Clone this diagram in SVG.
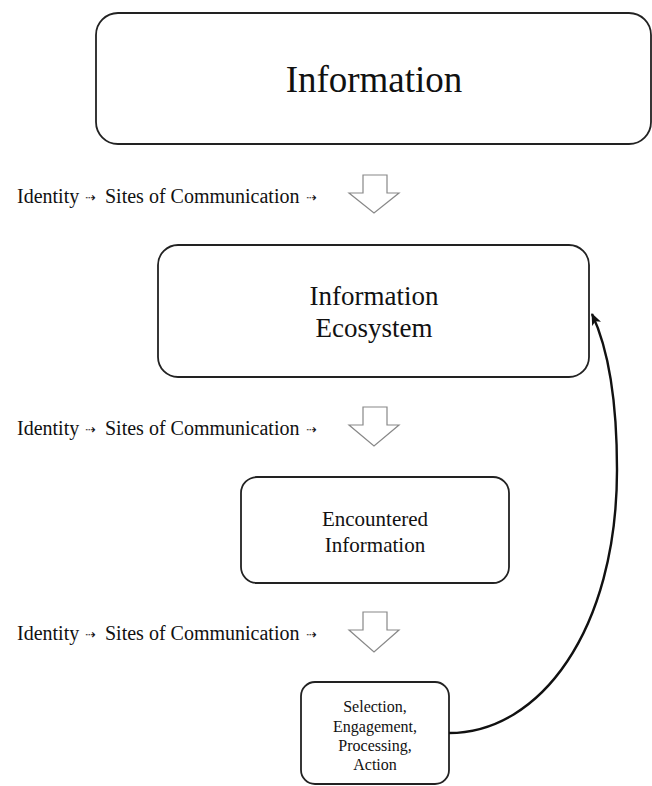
<svg xmlns="http://www.w3.org/2000/svg" width="652" height="786" viewBox="0 0 652 786">
<style>
.box{fill:#fff;stroke:#222;stroke-width:1.8}
.t{font-family:"Liberation Serif","Times New Roman",serif;fill:#111;text-anchor:middle}
.lbl{font-family:"Liberation Serif","Times New Roman",serif;fill:#111;font-size:20px}
.sa{font-family:"DejaVu Sans",sans-serif;font-size:13px}
.hollow{fill:#fff;stroke:#888;stroke-width:1.2;stroke-linejoin:miter}
.conn{fill:none;stroke:#111;stroke-width:2.4}
</style>
<defs>
<marker id="ah" viewBox="0 0 12 10" refX="11" refY="5" markerWidth="12" markerHeight="10" markerUnits="userSpaceOnUse" orient="auto">
<path d="M0,0 L12,5 L0,10 L3,5 Z" fill="#111"/>
</marker>
</defs>
<rect width="652" height="786" fill="#fff"/>
<g id="node-information">
<rect class="box" x="96" y="13" width="555" height="131" rx="22"/>
<text class="t" x="374" y="92" font-size="37">Information</text>
</g>
<g id="node-ecosystem">
<rect class="box" x="158" y="245" width="431" height="132" rx="20"/>
<text class="t" x="374" y="305" font-size="27">Information</text>
<text class="t" x="374" y="337" font-size="27">Ecosystem</text>
</g>
<g id="node-encountered">
<rect class="box" x="241" y="477" width="268" height="106" rx="16"/>
<text class="t" x="375" y="526" font-size="21">Encountered</text>
<text class="t" x="375" y="552" font-size="21">Information</text>
</g>
<g id="node-selection">
<rect class="box" x="301" y="682" width="148" height="102" rx="14"/>
<text class="t" x="375" y="712" font-size="16">Selection,</text>
<text class="t" x="375" y="732" font-size="16">Engagement,</text>
<text class="t" x="375" y="751" font-size="16">Processing,</text>
<text class="t" x="375" y="770" font-size="16">Action</text>
</g>
<g id="labels">
<text class="lbl" y="203"><tspan x="17">Identity</tspan><tspan class="sa" x="85" dy="-1">⇢</tspan><tspan x="105" dy="1">Sites of Communication</tspan><tspan class="sa" x="306" dy="-1">⇢</tspan></text>
<text class="lbl" y="435"><tspan x="17">Identity</tspan><tspan class="sa" x="85" dy="-1">⇢</tspan><tspan x="105" dy="1">Sites of Communication</tspan><tspan class="sa" x="306" dy="-1">⇢</tspan></text>
<text class="lbl" y="640"><tspan x="17">Identity</tspan><tspan class="sa" x="85" dy="-1">⇢</tspan><tspan x="105" dy="1">Sites of Communication</tspan><tspan class="sa" x="306" dy="-1">⇢</tspan></text>
</g>
<g id="flow-arrows">
<path class="hollow" d="M363,175 H387 V193 H399 L374,213 L349,193 H363 Z"/>
<path class="hollow" d="M363,407 H387 V425 H399 L374,446 L349,425 H363 Z"/>
<path class="hollow" d="M363,612 H387 V630 H399 L374,652 L349,630 H363 Z"/>
</g>
<g id="connectors">
<path class="conn" d="M449,733 C540,733 617,630 617,470 C617,400 608,348 592,314" marker-end="url(#ah)"/>
</g>
</svg>
